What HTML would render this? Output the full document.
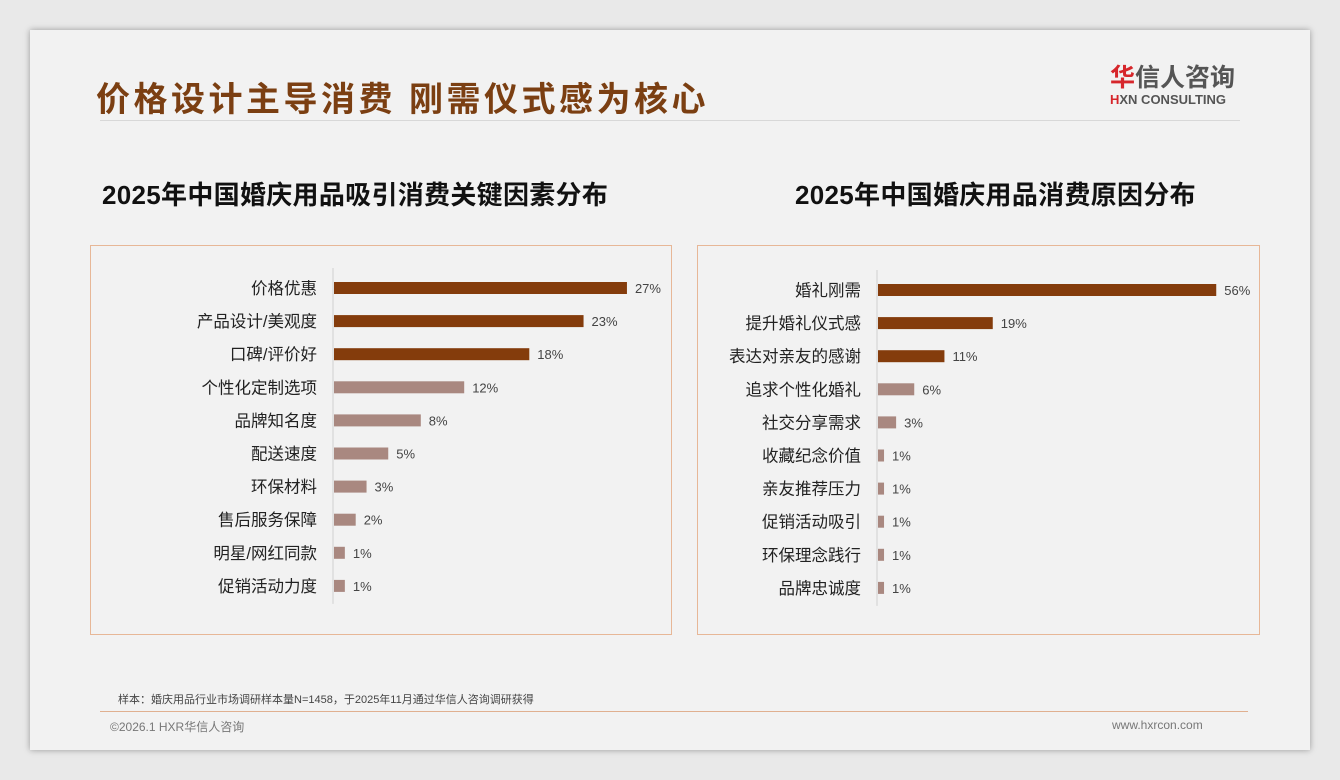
<!DOCTYPE html>
<html><head><meta charset="utf-8">
<style>
body{margin:0;width:1340px;height:780px;background:#e9e9e9;font-family:"Liberation Sans","Noto Sans CJK SC",sans-serif;position:relative;overflow:hidden}
#slide{position:absolute;left:30px;top:30px;width:1280px;height:720px;background:#f2f2f2;box-shadow:0 0 6px rgba(0,0,0,.35)}
.abs{position:absolute}
</style></head><body>
<div id="slide">
<div class="abs" style="left:66px;top:42px;font-size:34px;font-weight:bold;color:#7b3f12;letter-spacing:3.5px">价格设计主导消费 刚需仪式感为核心</div>
<div class="abs" style="left:70px;top:90px;width:1140px;height:1px;background:#d8d8d8"></div>
<div class="abs" style="left:1080px;top:34px;width:140px">
<div style="font-size:25px;font-weight:bold;color:#555;line-height:28px"><span style="color:#d6262b">华</span>信人咨询</div>
<div style="font-size:13px;font-weight:bold;color:#555;line-height:16px"><span style="color:#d6262b">H</span>XN CONSULTING</div>
</div>
<div class="abs" style="left:72px;top:145px;font-size:26px;font-weight:bold;color:#111;letter-spacing:0.3px">2025年中国婚庆用品吸引消费关键因素分布</div>
<div class="abs" style="left:765px;top:145px;font-size:26px;font-weight:bold;color:#111;letter-spacing:0.3px">2025年中国婚庆用品消费原因分布</div>
<div class="abs" style="left:60px;top:215px;width:580px;height:388px;border:1px solid #e7b797"></div>
<div class="abs" style="left:667px;top:215px;width:561px;height:388px;border:1px solid #e7b797"></div>
<svg class="abs" style="left:0;top:0" width="1280" height="720" id="charts"></svg>
<div class="abs" style="left:88px;top:661px;font-size:11px;color:#444">样本：婚庆用品行业市场调研样本量N=1458，于2025年11月通过华信人咨询调研获得</div>
<div class="abs" style="left:70px;top:681px;width:1148px;height:1px;background:#e0b090"></div>
<div class="abs" style="left:80px;top:688px;font-size:12px;color:#777">©2026.1 HXR华信人咨询</div>
<div class="abs" style="left:1082px;top:688px;font-size:12px;color:#777">www.hxrcon.com</div>
</div>
<script>
const leftCats=["价格优惠","产品设计/美观度","口碑/评价好","个性化定制选项","品牌知名度","配送速度","环保材料","售后服务保障","明星/网红同款","促销活动力度"];
const leftVals=[27,23,18,12,8,5,3,2,1,1];
const rightCats=["婚礼刚需","提升婚礼仪式感","表达对亲友的感谢","追求个性化婚礼","社交分享需求","收藏纪念价值","亲友推荐压力","促销活动吸引","环保理念践行","品牌忠诚度"];
const rightVals=[56,19,11,6,3,1,1,1,1,1];
const NS="http://www.w3.org/2000/svg";
const svg=document.getElementById('charts');
function mk(t,a){const e=document.createElementNS(NS,t);for(const k in a)e.setAttribute(k,a[k]);svg.appendChild(e);return e;}
function draw(cats,vals,x0,y0,step,scale,prefix){
  const ax=mk('line',{x1:x0,y1:y0-20,x2:x0,y2:y0+step*(cats.length-1)+18,stroke:'#d0d0d0','stroke-width':1});
  
  
  cats.forEach((c,i)=>{
    const y=y0+i*step;const w=vals[i]*scale;
    const col=i<3?'#843c0c':'#a98880';
    const r=mk('rect',{x:x0+1,y:y-6,width:w,height:12,fill:col});
    
    
    const l=mk('text',{x:x0-16,y:y+6,'text-anchor':'end','font-size':16.5,fill:'#222'});
    l.textContent=c;
    
    
    const v=mk('text',{x:x0+w+9,y:y+5,'font-size':13,fill:'#444'});
    v.textContent=vals[i]+'%';
    
    
  });
}
draw(leftCats,leftVals,303,258,33.1,10.85,'left');
draw(rightCats,rightVals,847,260,33.1,6.04,'right');
</script>
</body></html>
